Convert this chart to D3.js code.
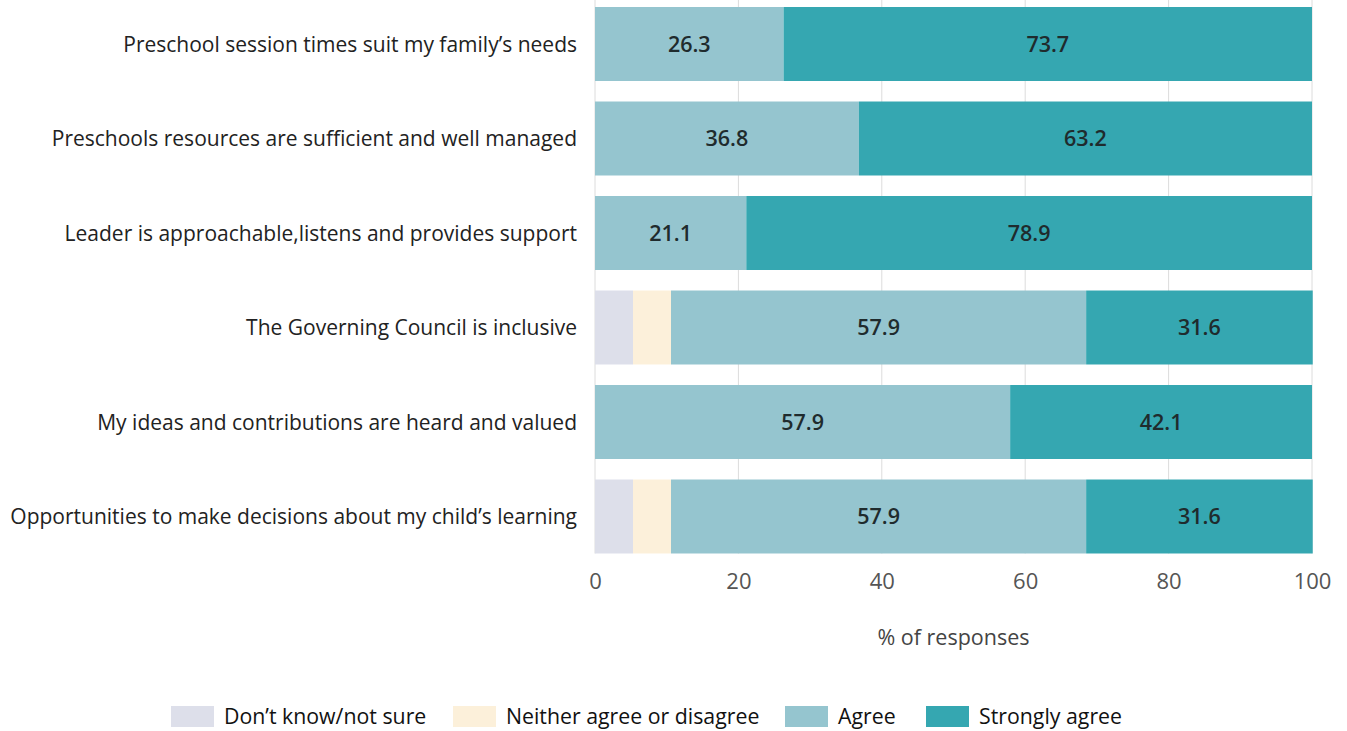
<!DOCTYPE html>
<html>
  <head>
    <meta charset="utf-8">
    <script src="https://cdn.jsdelivr.net/npm/d3@7"></script>
    <style>
      body { margin: 0; background: #fff; }
      text { font-family: "Open Sans", "Noto Sans", sans-serif; }
    </style>
  </head>
  <body>
    <script>

      // chart data
      var categories = [
        "Preschool session times suit my family\u2019s needs",
        "Preschools resources are sufficient and well managed",
        "Leader is approachable,listens and provides support",
        "The Governing Council is inclusive",
        "My ideas and contributions are heard and valued",
        "Opportunities to make decisions about my child\u2019s learning"
      ];
      var seriesNames = ["Don\u2019t know/not sure", "Neither agree or disagree", "Agree", "Strongly agree"];
      var dontKnow = [0, 0, 0, 5.3, 0, 5.3];
      var neither = [0, 0, 0, 5.3, 0, 5.3];
      var agree = [26.3, 36.8, 21.1, 57.9, 57.9, 57.9];
      var stronglyAgree = [73.7, 63.2, 78.9, 31.6, 42.1, 31.6];
      var xTicks = [0, 20, 40, 60, 80, 100];

      var colors = ["#dddfea", "#fcf0da", "#95c5cf", "#35a7b1"];
      var labelled = [false, false, true, true];

      // table for the stack layout
      var rows = categories.map(function(c, i) {
        return { cat: c, s0: dontKnow[i], s1: neither[i], s2: agree[i], s3: stronglyAgree[i] };
      });
      var keys = ["s0", "s1", "s2", "s3"];
      var stacked = d3.stack().keys(keys)(rows);

      var width = 1347, height = 731;
      var svg = d3.select("body").append("svg")
          .attr("width", width)
          .attr("height", height);

      var x = d3.scaleLinear().domain([0, 100]).range([595, 1312]);
      var y = d3.scaleBand()
          .domain(categories)
          .range([-3.25, 563.75])
          .paddingInner(0.217)
          .paddingOuter(0.1085);

      // gridlines
      svg.append("g")
        .selectAll("line")
        .data(xTicks)
        .enter()
        .append("line")
        .attr("x1", function(d) { return x(d); })
        .attr("x2", function(d) { return x(d); })
        .attr("y1", 0)
        .attr("y2", y(categories[categories.length - 1]) + y.bandwidth())
        .attr("stroke", "#dcdcdc")
        .attr("stroke-width", 1);

      // bars
      var layer = svg.selectAll(".layer")
        .data(stacked)
        .enter()
        .append("g")
        .attr("class", "layer")
        .attr("fill", function(d, i) { return colors[i]; });

      layer.selectAll("rect")
        .data(function(d) { return d; })
        .enter()
        .append("rect")
        .attr("x", function(d) { return x(d[0]); })
        .attr("y", function(d) { return y(d.data.cat); })
        .attr("width", function(d) { return x(d[1]) - x(d[0]); })
        .attr("height", y.bandwidth());

      // value labels
      layer.each(function(s, i) {
        if (!labelled[i]) return;
        d3.select(this).selectAll(".val")
          .data(s.filter(function(d) { return d[1] - d[0] > 0; }))
          .enter()
          .append("text")
          .attr("class", "val")
          .attr("x", function(d) { return x((d[0] + d[1]) / 2); })
          .attr("y", function(d) { return y(d.data.cat) + y.bandwidth() / 2; })
          .attr("dy", "0.36em")
          .attr("text-anchor", "middle")
          .attr("fill", "#1f2b2d")
          .style("font-size", "21.5px")
          .style("font-weight", "600")
          .text(function(d) { return (d[1] - d[0]).toFixed(1); });
      });

      // category labels
      svg.append("g")
        .selectAll("text")
        .data(categories)
        .enter()
        .append("text")
        .attr("x", 577)
        .attr("y", function(d) { return y(d) + y.bandwidth() / 2; })
        .attr("dy", "0.36em")
        .attr("text-anchor", "end")
        .attr("fill", "#222")
        .style("font-size", "21px")
        .text(function(d) { return d; });

      // x axis
      var xAxis = svg.append("g")
        .attr("transform", "translate(0,567)")
        .call(d3.axisBottom(x).tickValues(xTicks).tickSize(0).tickPadding(6));
      xAxis.select(".domain").remove();
      xAxis.selectAll("text")
        .attr("fill", "#555")
        .style("font-size", "22px")
        .style("font-family", "'Open Sans', sans-serif");

      // x axis title
      svg.append("text")
        .attr("x", (x(0) + x(100)) / 2)
        .attr("y", 645)
        .attr("text-anchor", "middle")
        .attr("fill", "#444")
        .style("font-size", "21.5px")
        .text("% of responses");

      // legend
      var legendX = [171, 453, 785, 926];
      var legend = svg.append("g")
        .selectAll("g")
        .data(seriesNames)
        .enter()
        .append("g")
        .attr("transform", function(d, i) { return "translate(" + legendX[i] + ",706)"; });

      legend.append("rect")
        .attr("width", 43)
        .attr("height", 21)
        .attr("fill", function(d, i) { return colors[i]; });

      legend.append("text")
        .attr("x", 53)
        .attr("y", 10.5)
        .attr("dy", "0.36em")
        .attr("fill", "#111")
        .style("font-size", "21.3px")
        .text(function(d) { return d; });

    </script>
  </body>
</html>
